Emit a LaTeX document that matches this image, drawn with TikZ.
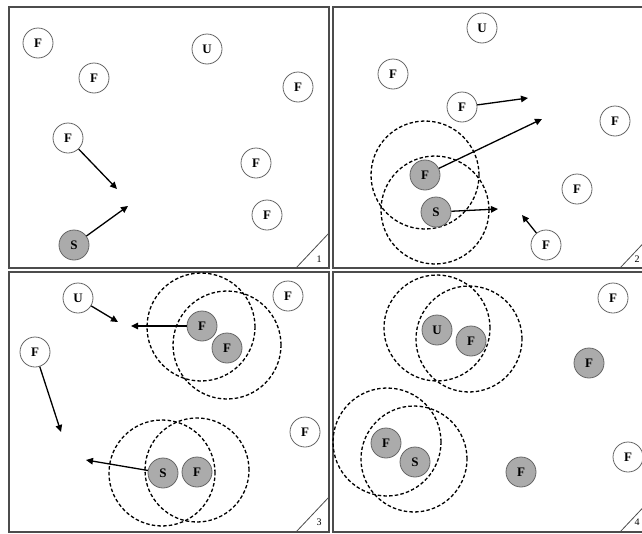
\documentclass[tikz,border=0pt]{standalone}
\usepackage{fontspec}
\setmainfont{Liberation Serif}
\usetikzlibrary{arrows.meta}
\begin{document}
\begin{tikzpicture}[x=1pt,y=-1pt,
  agent/.style={circle,draw=black!60,line width=0.8pt,minimum size=30pt,inner sep=0pt,font=\fontsize{13}{13}\selectfont\bfseries,fill=white},
  busy/.style={agent,fill=black!33},
  motion/.style={line width=1.3pt,-{Triangle[length=7pt,width=6.5pt]}},
  sensorring/.style={line width=1.3pt,dash pattern=on 3.5pt off 2.2pt},
  panelframe/.style={draw=black!70,line width=1.2pt},
  cornerline/.style={draw=black!70,line width=0.8pt},
  panelnum/.style={font=\fontsize{10}{10}\selectfont,inner sep=0pt}]
\useasboundingbox (0,0) rectangle (642,533);
% frames
\draw[panelframe] (9,7) rectangle (329,268);
\draw[panelframe] (333,7) rectangle (653,268);
\draw[panelframe] (9,272) rectangle (329,532);
\draw[panelframe] (333,272) rectangle (653,532);
\draw[cornerline] (296,268) -- (329,233);
\draw[cornerline] (620,268) -- (653,233);
\draw[cornerline] (296,532) -- (329,497);
\draw[cornerline] (620,532) -- (653,497);
\node[panelnum] (n1) at (319,259) {1};
\node[panelnum] (n2) at (637,259) {2};
\node[panelnum] (n3) at (319,522) {3};
\node[panelnum] (n4) at (637,522) {4};

% panel 1
\node[agent] (a1) at (38,43) {F};
\node[agent] (a2) at (207,49) {U};
\node[agent] (a3) at (94,78) {F};
\node[agent] (a4) at (298,87) {F};
\node[agent] (a5) at (68,138) {F};
\node[agent] (a6) at (256,163) {F};
\node[agent] (a7) at (267,215) {F};
\node[busy] (a8) at (74,245) {S};
\coordinate (t1) at (117,189);
\coordinate (t2) at (128,206);
\draw[motion] (a5) -- (t1);
\draw[motion] (a8) -- (t2);

% panel 2
\draw[sensorring] (425,175) circle[radius=54pt];
\draw[sensorring] (435,210) circle[radius=54pt];
\node[agent] (b1) at (482,28) {U};
\node[agent] (b2) at (393,74) {F};
\node[agent] (b3) at (462,107) {F};
\node[agent] (b4) at (615,121) {F};
\node[busy] (b5) at (425,175) {F};
\node[busy] (b6) at (436,212) {S};
\node[agent] (b7) at (577,189) {F};
\node[agent] (b8) at (546,245) {F};
\coordinate (u1) at (528,98);
\coordinate (u2) at (542,119);
\coordinate (u3) at (498,209);
\coordinate (u4) at (522,215);
\draw[motion] (b3) -- (u1);
\draw[motion] (b5) -- (u2);
\draw[motion] (b6) -- (u3);
\draw[motion] (b8) -- (u4);

% panel 3
\draw[sensorring] (201,327) circle[radius=54pt];
\draw[sensorring] (227,345) circle[radius=54pt];
\draw[sensorring] (162,473) circle[radius=53pt];
\draw[sensorring] (197,470) circle[radius=52pt];
\node[agent] (c1) at (78,298) {U};
\node[agent] (c2) at (35,352) {F};
\node[busy] (c3) at (202,326) {F};
\node[busy] (c4) at (227,348) {F};
\node[agent] (c5) at (288,296) {F};
\node[agent] (c6) at (305,432) {F};
\node[busy] (c7) at (163,473) {S};
\node[busy] (c8) at (197,472) {F};
\coordinate (v1) at (118,322);
\coordinate (v2) at (61,432);
\coordinate (v3) at (131,326);
\coordinate (v4) at (86,460);
\draw[motion] (c1) -- (v1);
\draw[motion] (c2) -- (v2);
\draw[motion] (c3) -- (v3);
\draw[motion] (c7) -- (v4);

% panel 4
\draw[sensorring] (437,328) circle[radius=53pt];
\draw[sensorring] (469,339) circle[radius=53pt];
\draw[sensorring] (387,442) circle[radius=54pt];
\draw[sensorring] (414,459) circle[radius=53pt];
\node[busy] (d1) at (437,330) {U};
\node[busy] (d2) at (471,341) {F};
\node[agent] (d3) at (613,298) {F};
\node[busy] (d4) at (589,363) {F};
\node[busy] (d5) at (386,443) {F};
\node[busy] (d6) at (415,462) {S};
\node[busy] (d7) at (521,472) {F};
\node[agent] (d8) at (628,457) {F};
\end{tikzpicture}
\end{document}
